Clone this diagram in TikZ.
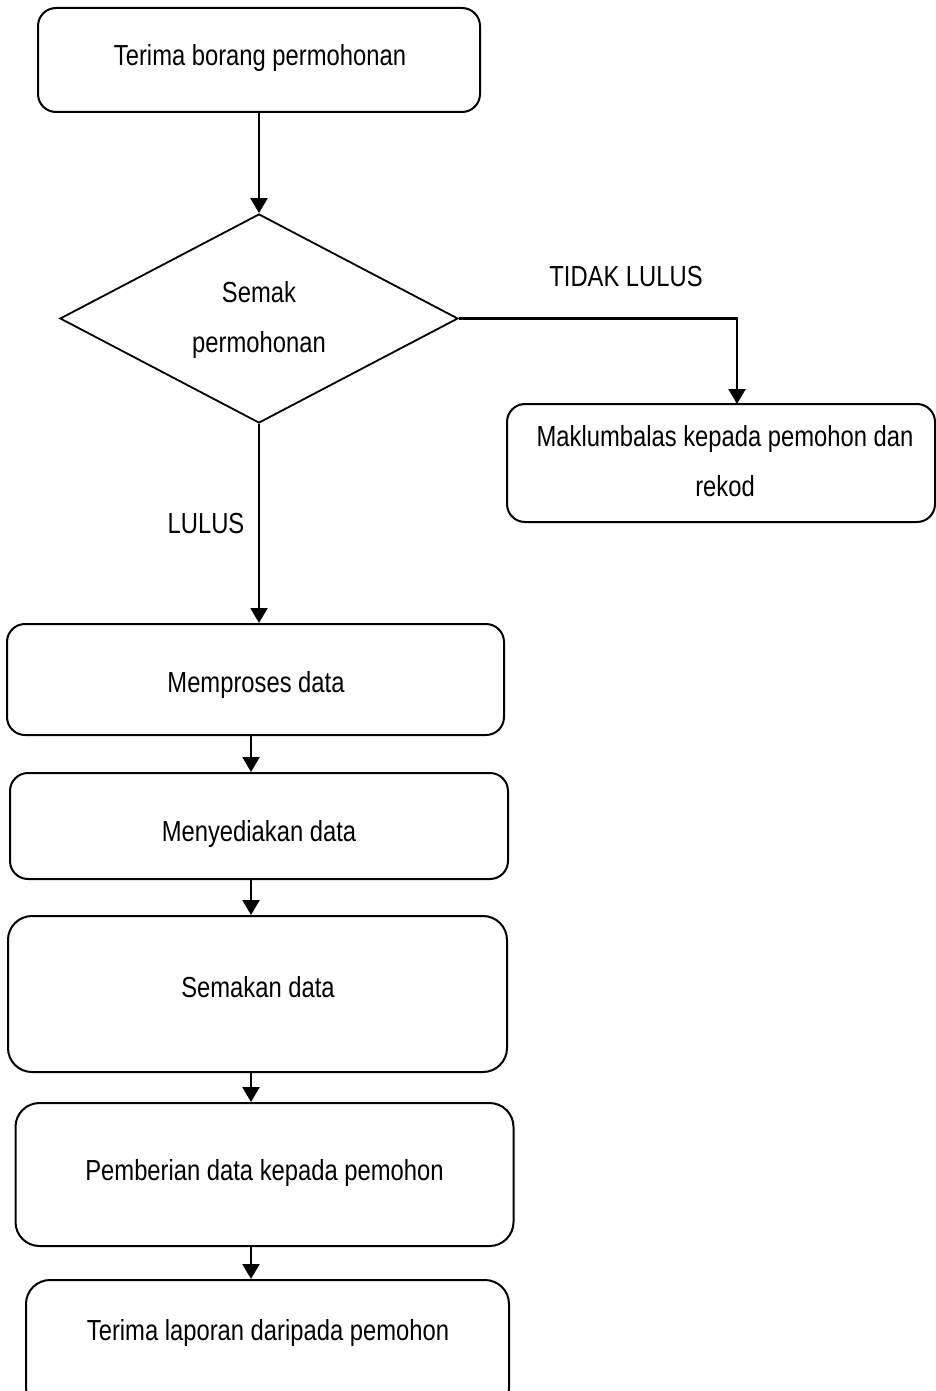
\documentclass[tikz,border=0pt]{standalone}
\usepackage{fontspec}
\setmainfont[FakeStretch=0.82]{Liberation Sans}
\usetikzlibrary{shapes.geometric,arrows.meta}
\begin{document}
\begin{tikzpicture}[x=0.5pt,y=-0.5pt,
  every node/.style={font=\fontsize{14.5pt}{25pt}\selectfont, text=black},
  box/.style={draw, line width=1pt, rounded corners=9pt, align=center, inner sep=0pt},
  bigbox/.style={box, rounded corners=12pt},
  txt/.style={inner sep=0pt, align=center},
  dec/.style={draw, diamond, aspect=2, line width=0.9pt, align=center, inner sep=0pt},
  arr/.style={line width=1.1pt, -{Triangle[length=7.5pt,width=8.5pt]}},
  lbl/.style={inner sep=0pt}]
\useasboundingbox (0,0) rectangle (936,1391);
\clip (0,0) rectangle (936,1391);

\node[box, minimum width=221pt, minimum height=52pt] (b1) at (259,60) {};
\node[txt] (t1) at (260,58) {Terima borang permohonan};

\node[dec, minimum width=199pt, minimum height=104.5pt] (d) at (259,318.5) {};
\node[txt] (td) at (259,320) {Semak\\permohonan};

\node[box, minimum width=214pt, minimum height=59pt] (m) at (721,463) {};
\node[txt] (tm) at (725,461) {Maklumbalas kepada pemohon dan\\rekod};

\node[box, minimum width=248.5pt, minimum height=55.5pt] (b2) at (255.5,679.5) {};
\node[txt] (t2) at (256,685) {Memproses data};

\node[box, minimum width=249pt, minimum height=53pt] (b3) at (259,826) {};
\node[txt] (t3) at (259,834) {Menyediakan data};

\node[bigbox, minimum width=249.5pt, minimum height=78pt] (b4) at (257.5,994) {};
\node[txt] (t4) at (258,987) {Semakan data};

\node[bigbox, minimum width=249pt, minimum height=71.5pt] (b5) at (264.5,1174.5) {};
\node[txt] (t5) at (264.5,1173) {Pemberian data kepada pemohon};

\node[bigbox, minimum width=241.5pt, minimum height=66pt] (b6) at (267.5,1346) {};
\node[txt] (t6) at (268,1333) {Terima laporan daripada pemohon};

\node[lbl] (ltl) at (626,277) {TIDAK LULUS};
\node[lbl] (ll) at (206,524) {LULUS};

\coordinate (mt) at (737,404);
\coordinate (ax) at (251,0);
\coordinate (dx) at (259,0);

\draw[arr] (b1.south -| dx) -- (d.north);
\draw[arr] (d.east) -| (mt);
\draw[arr] (d.south) -- (b2.north -| dx);
\draw[arr] (b2.south -| ax) -- (b3.north -| ax);
\draw[arr] (b3.south -| ax) -- (b4.north -| ax);
\draw[arr] (b4.south -| ax) -- (b5.north -| ax);
\draw[arr] (b5.south -| ax) -- (b6.north -| ax);
\end{tikzpicture}
\end{document}
